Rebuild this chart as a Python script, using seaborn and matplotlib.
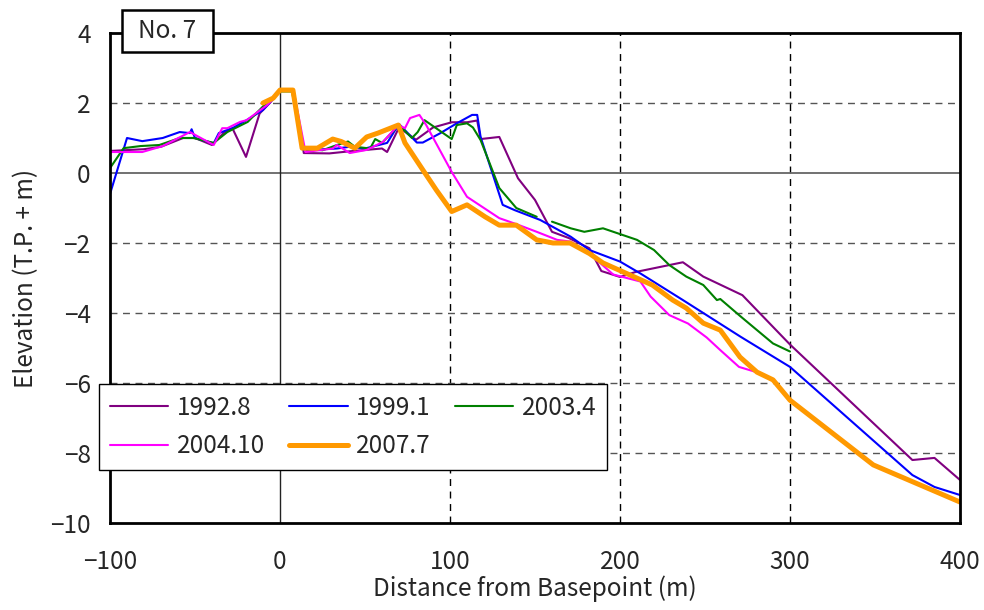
import numpy as np
import pandas as pd
import seaborn as sns
import matplotlib.pyplot as plt
from matplotlib.patches import Rectangle

# ---- data ----
x_1992 = [-100, -80, -70, -57, -50, -40, -33, -28, -20, -12, -6, 0, 8, 14, 29, 41, 60, 63, 70,
          80, 90, 101, 110, 116, 118, 129, 140, 150, 160, 170, 182, 189, 200, 209, 237, 249,
          272, 300, 372, 385, 400]
y_1992 = [0.63, 0.68, 0.75, 1.0, 1.0, 0.8, 1.15, 1.28, 0.46, 1.7, 2.0, 2.35, 2.35, 0.57, 0.56,
          0.62, 0.7, 0.6, 1.3, 0.95, 1.3, 1.45, 1.45, 1.5, 0.97, 1.03, -0.15, -0.77, -1.68,
          -1.86, -2.15, -2.8, -2.97, -2.83, -2.55, -2.96, -3.49, -4.9, -8.2, -8.14, -8.77]

x_1999 = [-100, -90, -81, -69, -59, -53, -52, -50, -39, -36, -28, -20, -10, 0, 8, 14, 33.5,
          41, 50, 63, 70, 80.5, 84, 94, 104, 113, 116, 118, 131, 138, 153, 171, 182, 200, 212,
          237, 271, 300, 372, 385, 400]
y_1999 = [-0.6, 1.0, 0.91, 1.0, 1.17, 1.14, 1.25, 1.0, 0.85, 1.14, 1.28, 1.5, 1.8, 2.35, 2.35,
          0.65, 0.7, 0.75, 0.7, 0.86, 1.4, 0.87, 0.87, 1.13, 1.42, 1.66, 1.66, 1.03, -0.91,
          -1.06, -1.34, -1.82, -2.2, -2.53, -2.87, -3.63, -4.68, -5.54, -8.63, -8.97, -9.2]

# None marks the break in the 2003.4 survey line
x_2003 = [-100, -92, -82, -71, -59, -51, -39, -31, -19, -8, 0, 7, 14, 25, 33.5, 40, 44, 53, 56,
          60, 70, 77.6, 81, 85, 101, 104, 110, 113.5, 118, 129, 139, 151, None, 160, 171, 179,
          190, 210, 220, 229, 239, 249, 257, 259, 271, 290, 300]
y_2003 = [0.14, 0.71, 0.77, 0.8, 1.0, 1.0, 0.86, 1.17, 1.46, 2.0, 2.33, 2.33, 0.7, 0.65, 0.8,
          0.9, 0.75, 0.7, 0.97, 0.86, 1.37, 1.0, 1.17, 1.51, 0.97, 1.37, 1.42, 1.3, 0.94, -0.43,
          -1.0, -1.25, None, -1.39, -1.58, -1.68, -1.58, -1.91, -2.2, -2.63, -2.96, -3.2, -3.63,
          -3.6, -4.1, -4.87, -5.1]

x_2004 = [-100, -81, -69, -53, -39, -34, -31, -23.5, -19.6, -7.6, -1, 0, 8, 15, 31, 33.5, 41,
          51, 60.6, 69.6, 73.5, 76.5, 82, 86, 101, 110, 129, 139, 151, 163, 171, 182, 196, 204,
          212, 218, 229, 240, 251, 259, 270, 281]
y_2004 = [0.6, 0.6, 0.77, 1.17, 0.8, 1.28, 1.28, 1.46, 1.51, 1.94, 2.28, 2.35, 2.35, 0.6, 0.7,
          0.8, 0.57, 0.66, 0.89, 1.37, 1.28, 1.57, 1.66, 1.37, 0.03, -0.68, -1.29, -1.46, -1.68,
          -1.91, -1.96, -2.3, -2.9, -3.0, -3.1, -3.53, -4.06, -4.3, -4.7, -5.06, -5.54, -5.7]

x_2007 = [-10, -4, 0, 7.6, 13, 22, 31, 36, 44, 51, 57.6, 69.6, 73.5, 84, 92, 101, 110, 120.6,
          129, 139, 151, 160.6, 170.6, 182, 190, 202, 219, 231, 239, 249, 259, 270.6, 280.6,
          290, 300, 349, 400]
y_2007 = [2.0, 2.14, 2.37, 2.37, 0.71, 0.71, 0.97, 0.9, 0.71, 1.03, 1.14, 1.37, 0.86, 0.09,
          -0.49, -1.1, -0.91, -1.25, -1.49, -1.49, -1.91, -2.0, -2.0, -2.3, -2.57, -2.83, -3.2,
          -3.63, -3.86, -4.29, -4.49, -5.26, -5.69, -5.91, -6.49, -8.34, -9.4]

series_names = ['1992.8', '1999.1', '2003.4', '2004.10', '2007.7']
series_x = [x_1992, x_1999, x_2003, x_2004, x_2007]
series_y = [y_1992, y_1999, y_2003, y_2004, y_2007]
colors = ['#800080', '#0000FF', '#008000', '#FF00FF', '#FF9900']
widths = [1.5, 1.5, 1.5, 1.5, 3.6]

x_ticks = [-100, 0, 100, 200, 300, 400]
y_ticks = [-10, -8, -6, -4, -2, 0, 2, 4]

# ---- style ----
sns.set_style("white")
plt.rcParams['font.family'] = ['Noto Sans CJK JP', 'DejaVu Sans']
FS = 17.5

fig, ax = plt.subplots(figsize=(9.84, 6.10), dpi=100)
fig.subplots_adjust(left=0.1118, right=0.9756, bottom=0.1426, top=0.9459)

# grid lines by hand: dashed inside, solid through zero
for xv in [100, 200, 300]:
    ax.axvline(xv, ls=(0, (5, 4)), color='black', lw=1.0, zorder=0.5)
for yv in [-8, -6, -4, -2, 2]:
    ax.axhline(yv, ls=(0, (5, 4)), color='#555555', lw=1.0, zorder=0.5)
ax.axhline(0, color='#666666', lw=1.3, zorder=0.6)
ax.axvline(0, color='#222222', lw=1.0, zorder=0.6)

handles = {}
for name, xs, ys, c, w in zip(series_names, series_x, series_y, colors, widths):
    df = pd.DataFrame({'x': xs, 'y': ys}, dtype=float)
    # split on None gaps so the line breaks there
    seg_id = df['x'].isna().cumsum()
    for _, seg in df.dropna().groupby(seg_id[df['x'].notna()]):
        sns.lineplot(data=seg, x='x', y='y', ax=ax, color=c, lw=w, sort=False,
                     estimator=None, legend=False)
    handles[name] = ax.lines[-1]

ax.set_xlim(-100, 400)
ax.set_ylim(-10, 4)
ax.set_xticks(x_ticks)
ax.set_yticks(y_ticks)
ax.tick_params(labelsize=FS, length=0)
ax.tick_params(axis='x', pad=19)
ax.tick_params(axis='y', pad=14)
ax.set_xlabel('Distance from Basepoint (m)', fontsize=FS, labelpad=0)
ax.set_ylabel('Elevation (T.P. + m)', fontsize=FS, labelpad=8)
for sp in ax.spines.values():
    sp.set_color('black')
    sp.set_linewidth(2)

# legend fills row by row in the reference: reorder for column-major filling
order = ['1992.8', '2004.10', '1999.1', '2007.7', '2003.4']
leg = ax.legend([handles[n] for n in order], order,
                loc='lower left', bbox_to_anchor=(-0.013, 0.108, 0.598, 0.188), mode='expand',
                ncol=3, fontsize=FS, frameon=True, fancybox=False, framealpha=1,
                borderaxespad=0, handlelength=2.4, handletextpad=0.35,
                columnspacing=0.5, labelspacing=0.5, borderpad=0.45)
leg.get_frame().set_edgecolor('black')
leg.get_frame().set_linewidth(1.0)
leg.set_zorder(5)

# "No. 7" label box straddling the top spine
fig.patches.append(Rectangle((122 / 984, 1 - 52 / 610), 91 / 984, 42 / 610,
                             transform=fig.transFigure, fc='white', ec='black', lw=1.8,
                             zorder=10))
fig.text(167.5 / 984, 1 - 31 / 610, 'No. 7', ha='center', va='center', fontsize=FS,
         zorder=11)

fig.savefig('out.png', dpi=100)
